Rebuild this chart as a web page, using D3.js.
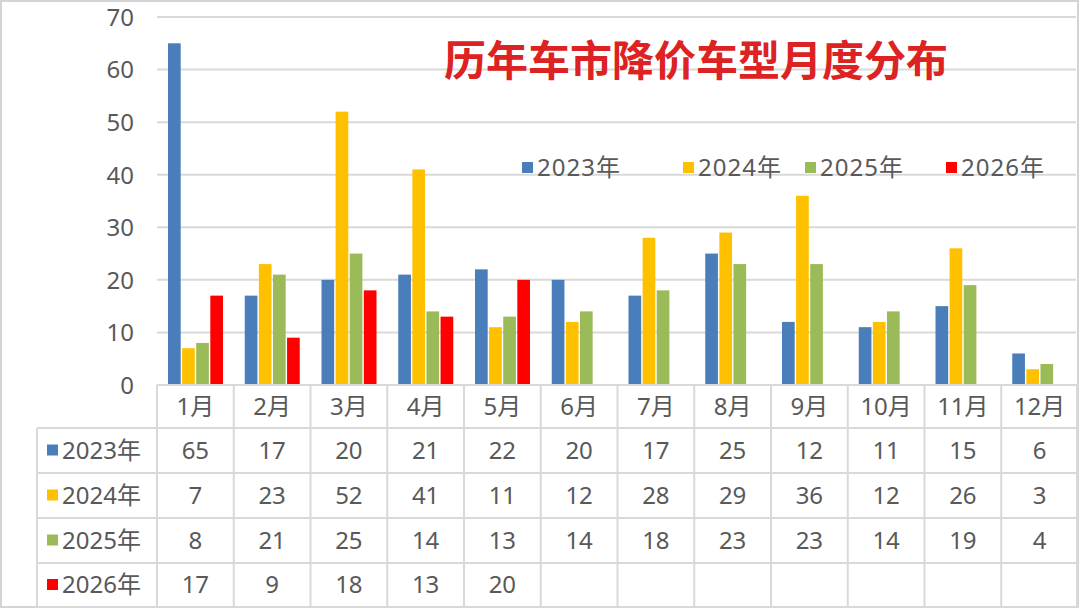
<!DOCTYPE html>
<html><head><meta charset="utf-8">
<script src="https://cdn.jsdelivr.net/npm/d3@7"></script>
<style>
html,body{margin:0;padding:0;background:#fff;}
svg{display:block;}
text{font-family:"Noto Sans","Noto Sans CJK SC",sans-serif;}
</style></head>
<body><svg id="c" width="1080" height="609"></svg>
<script>
const months = ["1月","2月","3月","4月","5月","6月","7月","8月","9月","10月","11月","12月"];
const seriesNames = ["2023年","2024年","2025年","2026年"];
const s2023 = [65,17,20,21,22,20,17,25,12,11,15,6];
const s2024 = [7,23,52,41,11,12,28,29,36,12,26,3];
const s2025 = [8,21,25,14,13,14,18,23,23,14,19,4];
const s2026 = [17,9,18,13,20];
const colors = ["#4a7ebb","#ffc000","#9bbb59","#ff0000"];
const yTicks = [0,10,20,30,40,50,60,70];
const title = "历年车市降价车型月度分布";

const seriesVals = [s2023,s2024,s2025,s2026];
const svg = d3.select("#c");
const textColor = "#595959";
const gridColor = "#d9d9d9";
const fs = 24;

// outer frame
svg.append("rect").attr("x",1).attr("y",1).attr("width",1077).attr("height",606)
  .attr("fill","#fff").attr("stroke","#d4d4d4").attr("stroke-width",2);

const x0 = d3.scaleBand().domain(months).range([157,1078]).padding(0);
const x1 = d3.scaleBand().domain(seriesNames).range([11,66]).paddingInner(0.1);
const y = d3.scaleLinear().domain([0,70]).range([385,17]);

// gridlines
svg.append("g").selectAll("line").data(yTicks.filter(d=>d>0)).join("line")
  .attr("x1",157).attr("x2",1076).attr("y1",d=>y(d)).attr("y2",d=>y(d))
  .attr("stroke",gridColor).attr("stroke-width",2);

// y axis labels
const yAxis = d3.axisLeft(y).tickValues(yTicks).tickSize(0).tickPadding(0);
const ga = svg.append("g").attr("transform","translate(134,0)").call(yAxis);
ga.select(".domain").remove();
ga.selectAll("text").attr("font-size",fs).attr("fill",textColor)
  .attr("font-family",'"Noto Sans",sans-serif').attr("dy","0.35em");

// bars
seriesVals.forEach((vals,si)=>{
  svg.append("g").selectAll("rect").data(vals).join("rect")
    .attr("x",(d,i)=>x0(months[i])+x1(seriesNames[si]))
    .attr("y",d=>y(d))
    .attr("width",x1.bandwidth())
    .attr("height",d=>y(0)-y(d))
    .attr("fill",colors[si]);
});

// title
svg.append("text").attr("x",696).attr("y",76).attr("text-anchor","middle")
  .attr("font-size",42).attr("font-weight","bold").attr("fill","#dc2222")
  .attr("font-family",'"Noto Sans CJK SC",sans-serif').text(title);

// legend
const legX = [522,683,805,946];
const lg = svg.append("g");
seriesNames.forEach((n,i)=>{
  lg.append("rect").attr("x",legX[i]).attr("y",162).attr("width",11).attr("height",11).attr("fill",colors[i]);
  lg.append("text").attr("x",legX[i]+15).attr("y",168).attr("dy","0.35em")
    .attr("font-size",fs).attr("letter-spacing",1).attr("fill",textColor).text(n);
});

// data table
const rowTops = [385,428,473,518,563,607];
const tbl = svg.append("g");
tbl.append("line").attr("x1",157).attr("x2",1078).attr("y1",385).attr("y2",385).attr("stroke",gridColor).attr("stroke-width",2);
rowTops.slice(1).forEach(t=>{
  tbl.append("line").attr("x1",37).attr("x2",1078).attr("y1",t).attr("y2",t).attr("stroke",gridColor).attr("stroke-width",2);
});
tbl.append("line").attr("x1",37).attr("x2",37).attr("y1",428).attr("y2",607).attr("stroke",gridColor).attr("stroke-width",2);
months.forEach(m=>{
  tbl.append("line").attr("x1",x0(m)).attr("x2",x0(m)).attr("y1",385).attr("y2",607).attr("stroke",gridColor).attr("stroke-width",2);
});
tbl.append("line").attr("x1",1077).attr("x2",1077).attr("y1",385).attr("y2",607).attr("stroke",gridColor).attr("stroke-width",2);

// month labels
tbl.selectAll("text.m").data(months).join("text").attr("class","m")
  .attr("x",d=>x0(d)+x0.bandwidth()/2).attr("y",(rowTops[0]+rowTops[1])/2).attr("dy","0.35em")
  .attr("text-anchor","middle").attr("font-size",fs).attr("fill",textColor).text(d=>d);

// rows
seriesVals.forEach((vals,si)=>{
  const cy = (rowTops[si+1]+rowTops[si+2])/2;
  tbl.append("rect").attr("x",47).attr("y",cy-6).attr("width",11).attr("height",11).attr("fill",colors[si]);
  tbl.append("text").attr("x",62).attr("y",cy).attr("dy","0.35em").attr("font-size",fs)
    .attr("fill",textColor).text(seriesNames[si]);
  vals.forEach((v,i)=>{
    tbl.append("text").attr("x",x0(months[i])+x0.bandwidth()/2).attr("y",cy).attr("dy","0.35em")
      .attr("text-anchor","middle").attr("font-size",fs).attr("fill",textColor).text(v);
  });
});
</script></body></html>
